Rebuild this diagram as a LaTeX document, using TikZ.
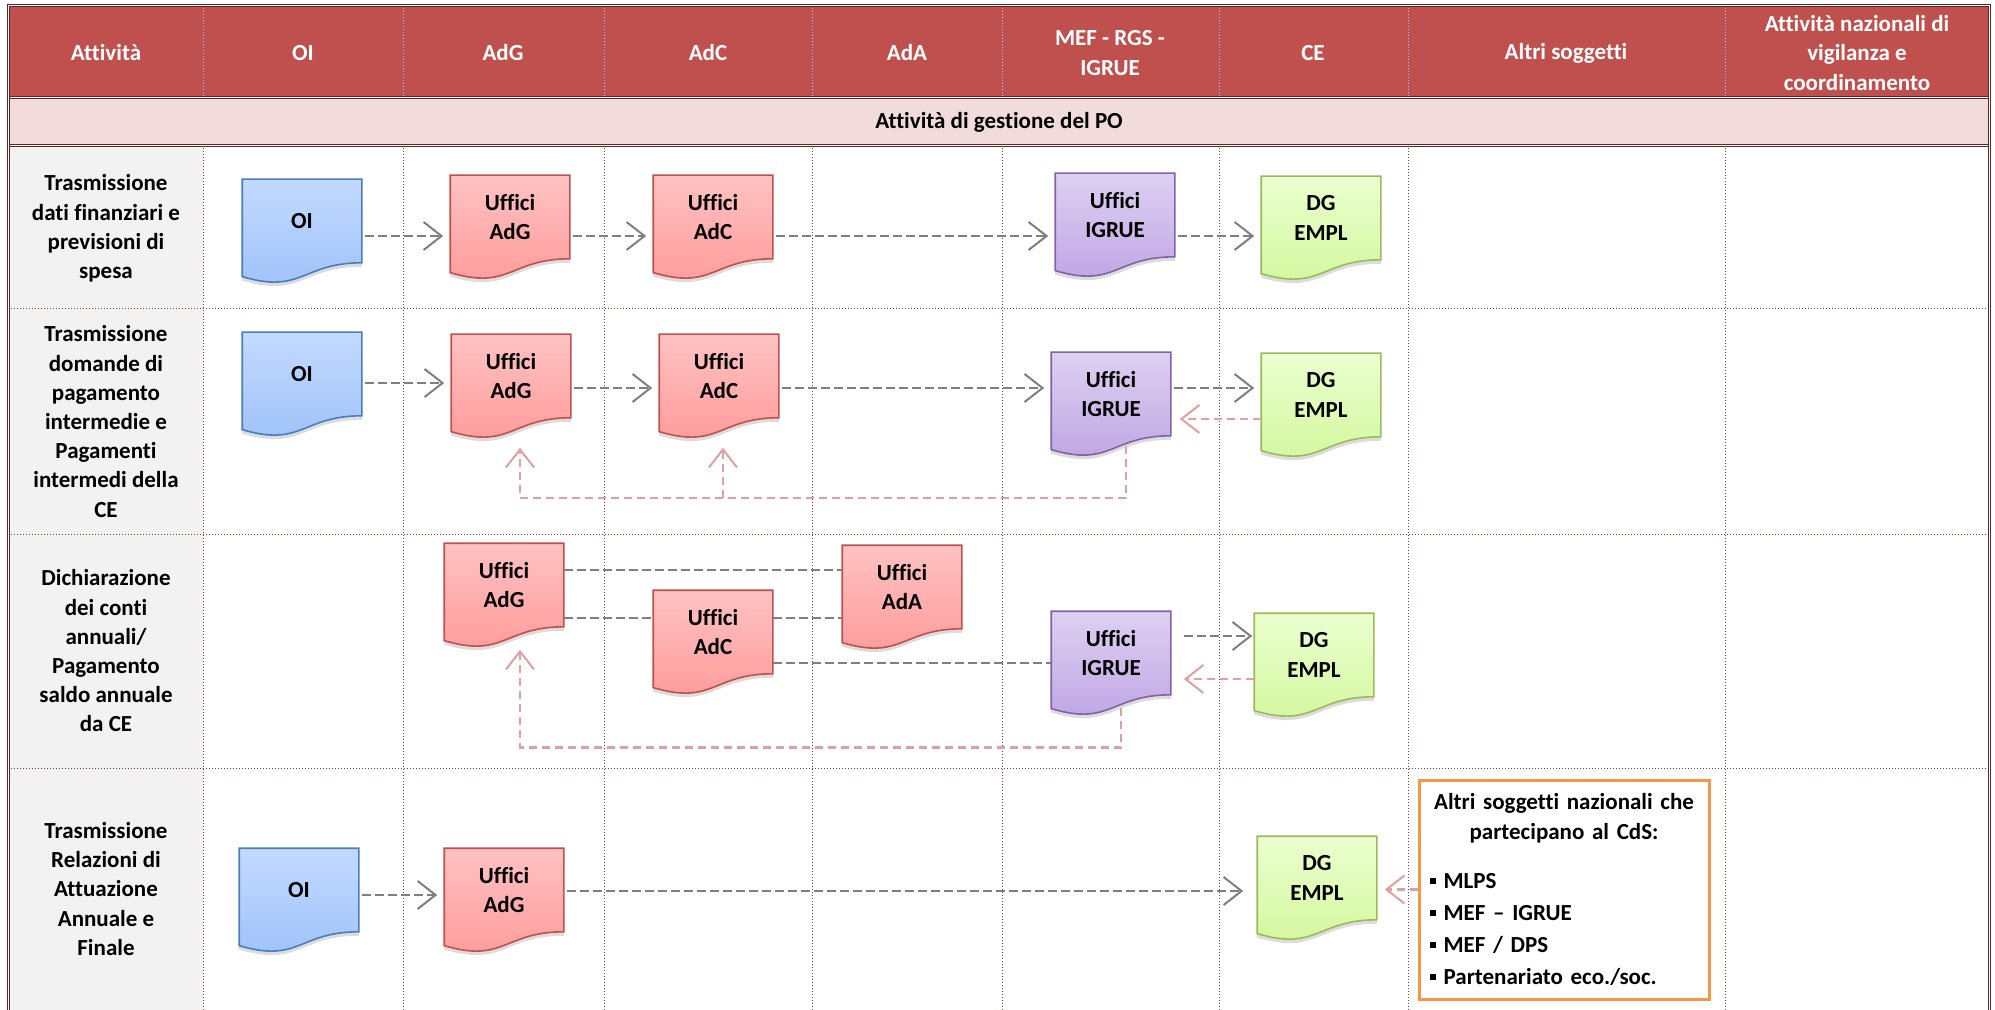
\documentclass[tikz,border=0pt]{standalone}
\usepackage{fontspec}
\setmainfont{Carlito}[Ligatures={TeX,NoCommon}]
\usetikzlibrary{arrows.meta,shadows}

\definecolor{hdrred}{HTML}{C0504D}
\definecolor{bandpink}{HTML}{F2DCDB}
\definecolor{framered}{HTML}{632523}
\definecolor{gridred}{HTML}{8B3A3A}
\definecolor{labgray}{HTML}{F2F2F2}
\definecolor{arrgray}{HTML}{7F7F7F}
\definecolor{arrpink}{HTML}{DFA0A0}
\definecolor{altrior}{HTML}{F79646}
\definecolor{oiline}{HTML}{4A7EBB}
\definecolor{oitop}{HTML}{C3DAFF}
\definecolor{oibot}{HTML}{9DC1F9}
\definecolor{adline}{HTML}{C0504D}
\definecolor{adtop}{HTML}{FFC2C2}
\definecolor{adbot}{HTML}{FF9999}
\definecolor{igline}{HTML}{8064A2}
\definecolor{igtop}{HTML}{DED0F2}
\definecolor{igbot}{HTML}{BDA3E3}
\definecolor{dgline}{HTML}{9BBB59}
\definecolor{dgtop}{HTML}{EBFFD0}
\definecolor{dgbot}{HTML}{D2F79B}

% document shape: rectangle with a wavy bottom edge
\makeatletter
\pgfdeclareshape{docpage}{%
  \inheritsavedanchors[from=rectangle]%
  \inheritanchorborder[from=rectangle]%
  \inheritanchor[from=rectangle]{center}%
  \inheritanchor[from=rectangle]{north}%
  \inheritanchor[from=rectangle]{south}%
  \inheritanchor[from=rectangle]{east}%
  \inheritanchor[from=rectangle]{west}%
  \inheritanchor[from=rectangle]{north east}%
  \inheritanchor[from=rectangle]{north west}%
  \inheritanchor[from=rectangle]{south east}%
  \inheritanchor[from=rectangle]{south west}%
  \backgroundpath{%
    \southwest \edef\dpL{\the\pgf@x}\edef\dpB{\the\pgf@y}%
    \northeast \edef\dpR{\the\pgf@x}\edef\dpT{\the\pgf@y}%
    \pgfmathsetmacro\dpM{0.5*\dpL+0.5*\dpR}%
    \pgfmathsetmacro\dpCa{\dpB-0.38*(\dpT-\dpB)}%
    \pgfmathsetmacro\dpCb{\dpB-0.165*(\dpT-\dpB)}%
    \pgfpathmoveto{\pgfqpoint{\dpL}{\dpT}}%
    \pgfpathlineto{\pgfqpoint{\dpR}{\dpT}}%
    \pgfpathlineto{\pgfqpoint{\dpR}{\dpB}}%
    \pgfpathcurveto{\pgfqpoint{\dpM pt}{\dpB}}{\pgfqpoint{\dpM pt}{\dpCa pt}}{\pgfqpoint{\dpL}{\dpCb pt}}%
    \pgfpathclose
  }%
}
\makeatother

\newcommand{\sqbul}{\rule[2pt]{2.8pt}{3.2pt}\hspace{4pt}}

\begin{document}
\begin{tikzpicture}[x=0.5pt,y=-0.5pt,
  font=\bfseries\fontsize{11.5}{14.6}\selectfont,
  docbox/.style={shape=docpage, line width=0.8pt, minimum width=59pt, minimum height=41pt,
    inner sep=0pt, align=center,
    drop shadow={shadow xshift=0pt, shadow yshift=-2pt, opacity=0.3, fill=black!45}},
  oibox/.style={docbox, draw=oiline, top color=oitop, bottom color=oibot},
  adbox/.style={docbox, draw=adline, top color=adtop, bottom color=adbot},
  igbox/.style={docbox, draw=igline, top color=igtop, bottom color=igbot},
  dgbox/.style={docbox, draw=dgline, top color=dgtop, bottom color=dgbot},
  altribox/.style={draw=altrior, line width=1.5pt, fill=white, text width=134pt, align=left,
    inner xsep=5.5pt, inner ysep=0pt, minimum height=109.5pt},
  hdrtext/.style={text=white, align=center},
  rowlab/.style={align=center},
  frame/.style={draw=framered, line width=0.5pt, double=white, double distance=0.5pt},
  hdrsep/.style={draw=white!75!blue, densely dotted, line width=0.5pt},
  cellsep/.style={draw=gridred, densely dotted, line width=0.5pt},
  link/.style={draw=arrgray, line width=1.3pt, dash pattern=on 4.5pt off 2pt},
  flow/.style={link, -{Straight Barb[length=9pt,width=14pt,line width=1pt]},
    shorten <=1.5pt, shorten >=3.5pt},
  back/.style={draw=arrpink, line width=1.1pt, dash pattern=on 4pt off 2.5pt,
    -{Straight Barb[length=9pt,width=14pt,line width=1pt]}}]

\useasboundingbox (0,0) rectangle (1995,1010);
\clip (0,0) rectangle (1995,1010);

% table
\fill[hdrred] (8,6) rectangle (1989,98);
\fill[bandpink] (8,99) rectangle (1989,145);
\fill[labgray] (8,146) rectangle (203,1010);
\foreach \cx in {203,403,604,812,1002,1219,1408,1725} {
  \draw[hdrsep] (\cx,8) -- (\cx,97);
  \draw[cellsep] (\cx,148) -- (\cx,1010);
}
\foreach \ry in {309,534,768}
  \draw[cellsep] (8,\ry) -- (1989,\ry);
\draw[frame] (8,98) -- (1989,98);
\draw[frame] (8,146) -- (1989,146);
\draw[frame] (8,6) rectangle (1989,1040);

% header
\foreach \cx/\ct [count=\i] in {106/Attività, 303/OI, 503/AdG, 708/AdC, 907/AdA,
    1110/{MEF - RGS -\\IGRUE}, 1313/CE, 1566/Altri soggetti,
    1857/{Attività nazionali di\\vigilanza e\\coordinamento}}
  \node[hdrtext] (h\i) at (\cx,53) {\ct};
\node (band) at (999,122) {Attività di gestione del PO};

% activities
\node[rowlab] (act1) at (106,228.5) {Trasmissione\\dati finanziari e\\previsioni di\\spesa};
\node[rowlab] (act2) at (106,421.5) {Trasmissione\\domande di\\pagamento\\intermedie e\\Pagamenti\\intermedi della\\CE};
\node[rowlab] (act3) at (106,651) {Dichiarazione\\dei conti\\annuali/\\Pagamento\\saldo annuale\\da CE};
\node[rowlab] (act4) at (106,889) {Trasmissione\\Relazioni di\\Attuazione\\Annuale e\\Finale};

% row 1
\node[oibox] (oiA) at (302,221) {OI};
\node[adbox] (adgA) at (510,217) {Uffici\\AdG};
\node[adbox] (adcA) at (713,217) {Uffici\\AdC};
\node[igbox] (igrueA) at (1115,215) {Uffici\\IGRUE};
\node[dgbox] (dgA) at (1321,218) {DG\\EMPL};
\coordinate (l1) at (0,236);
\draw[flow] (oiA.east |- l1) -- (adgA.west |- l1);
\draw[flow] (adgA.east |- l1) -- (adcA.west |- l1);
\draw[flow] (adcA.east |- l1) -- (igrueA.west |- l1);
\draw[flow] (igrueA.east |- l1) -- (dgA.west |- l1);

% row 2
\node[oibox] (oiB) at (302,374) {OI};
\node[adbox] (adgB) at (511,376) {Uffici\\AdG};
\node[adbox] (adcB) at (719,376) {Uffici\\AdC};
\node[igbox] (igrueB) at (1111,394) {Uffici\\IGRUE};
\node[dgbox] (dgB) at (1321,395) {DG\\EMPL};
\coordinate (l2a) at (0,383);
\coordinate (l2b) at (0,388);
\coordinate (l2c) at (0,419);
\coordinate (r2) at (0,498);
\draw[flow] (oiB.east |- l2a) -- (adgB.west |- l2a);
\draw[flow] (adgB.east |- l2b) -- (adcB.west |- l2b);
\draw[flow] (adcB.east |- l2b) -- (igrueB.west |- l2b);
\draw[flow] (igrueB.east |- l2b) -- (dgB.west |- l2b);
\draw[back, shorten >=4.5pt] (dgB.west |- l2c) -- (igrueB.east |- l2c);
\draw[back] ([xshift=7.5pt,yshift=-5pt]igrueB.south) |- ([xshift=4.5pt]adgB.south |- r2)
  -- ([xshift=4.5pt,yshift=-15pt]adgB.south);
\draw[back] ([xshift=2pt]adcB.south |- r2) -- ([xshift=2pt,yshift=-15pt]adcB.south);

% row 3
\node[adbox] (adgC) at (504,585) {Uffici\\AdG};
\node[adbox] (adaC) at (902,587) {Uffici\\AdA};
\node[adbox] (adcC) at (713,632) {Uffici\\AdC};
\node[igbox] (igrueC) at (1111,653) {Uffici\\IGRUE};
\node[dgbox] (dgC) at (1314,655) {DG\\EMPL};
\coordinate (l3a) at (0,570);
\coordinate (l3b) at (0,618);
\coordinate (l3c) at (0,663);
\coordinate (l3d) at (0,636);
\coordinate (l3e) at (0,679);
\coordinate (r3) at (0,747.5);
\draw[link] (adgC.east |- l3a) -- (adaC.west |- l3a);
\draw[link] (adgC.east |- l3b) -- (adcC.west |- l3b);
\draw[link] (adcC.east |- l3b) -- (adaC.west |- l3b);
\draw[link] (adcC.east |- l3c) -- (igrueC.west |- l3c);
\draw[flow, shorten <=6.5pt, shorten >=1pt] (igrueC.east |- l3d) -- (dgC.west |- l3d);
\draw[back, shorten >=6.5pt] (dgC.west |- l3e) -- (igrueC.east |- l3e);
\draw[back] ([xshift=5pt,yshift=-6.5pt]igrueC.south) |- ([xshift=8pt]adgC.south |- r3)
  -- ([xshift=8pt,yshift=-11.5pt]adgC.south);

% row 4
\node[oibox] (oiD) at (299,890) {OI};
\node[adbox] (adgD) at (504,890) {Uffici\\AdG};
\node[dgbox] (dgD) at (1317,878) {DG\\EMPL};
\node[altribox] (altri) at (1564,889.5) {\makebox[134pt]{Altri soggetti nazionali che}\\
  \makebox[134pt]{partecipano al CdS:}\\[10pt]
  \sqbul MLPS\\[1.4pt]
  \sqbul MEF -- IGRUE\\[1.4pt]
  \sqbul MEF / DPS\\[1.4pt]
  \sqbul Partenariato eco./soc.};
\coordinate (l4a) at (0,895);
\coordinate (l4b) at (0,891);
\draw[flow] (oiD.east |- l4a) -- (adgD.west |- l4a);
\draw[flow, shorten >=7pt] (adgD.east |- l4b) -- (dgD.west |- l4b);
\draw[back, shorten >=4pt] (altri.west) -- (altri.west -| dgD.east);
\end{tikzpicture}
\end{document}
